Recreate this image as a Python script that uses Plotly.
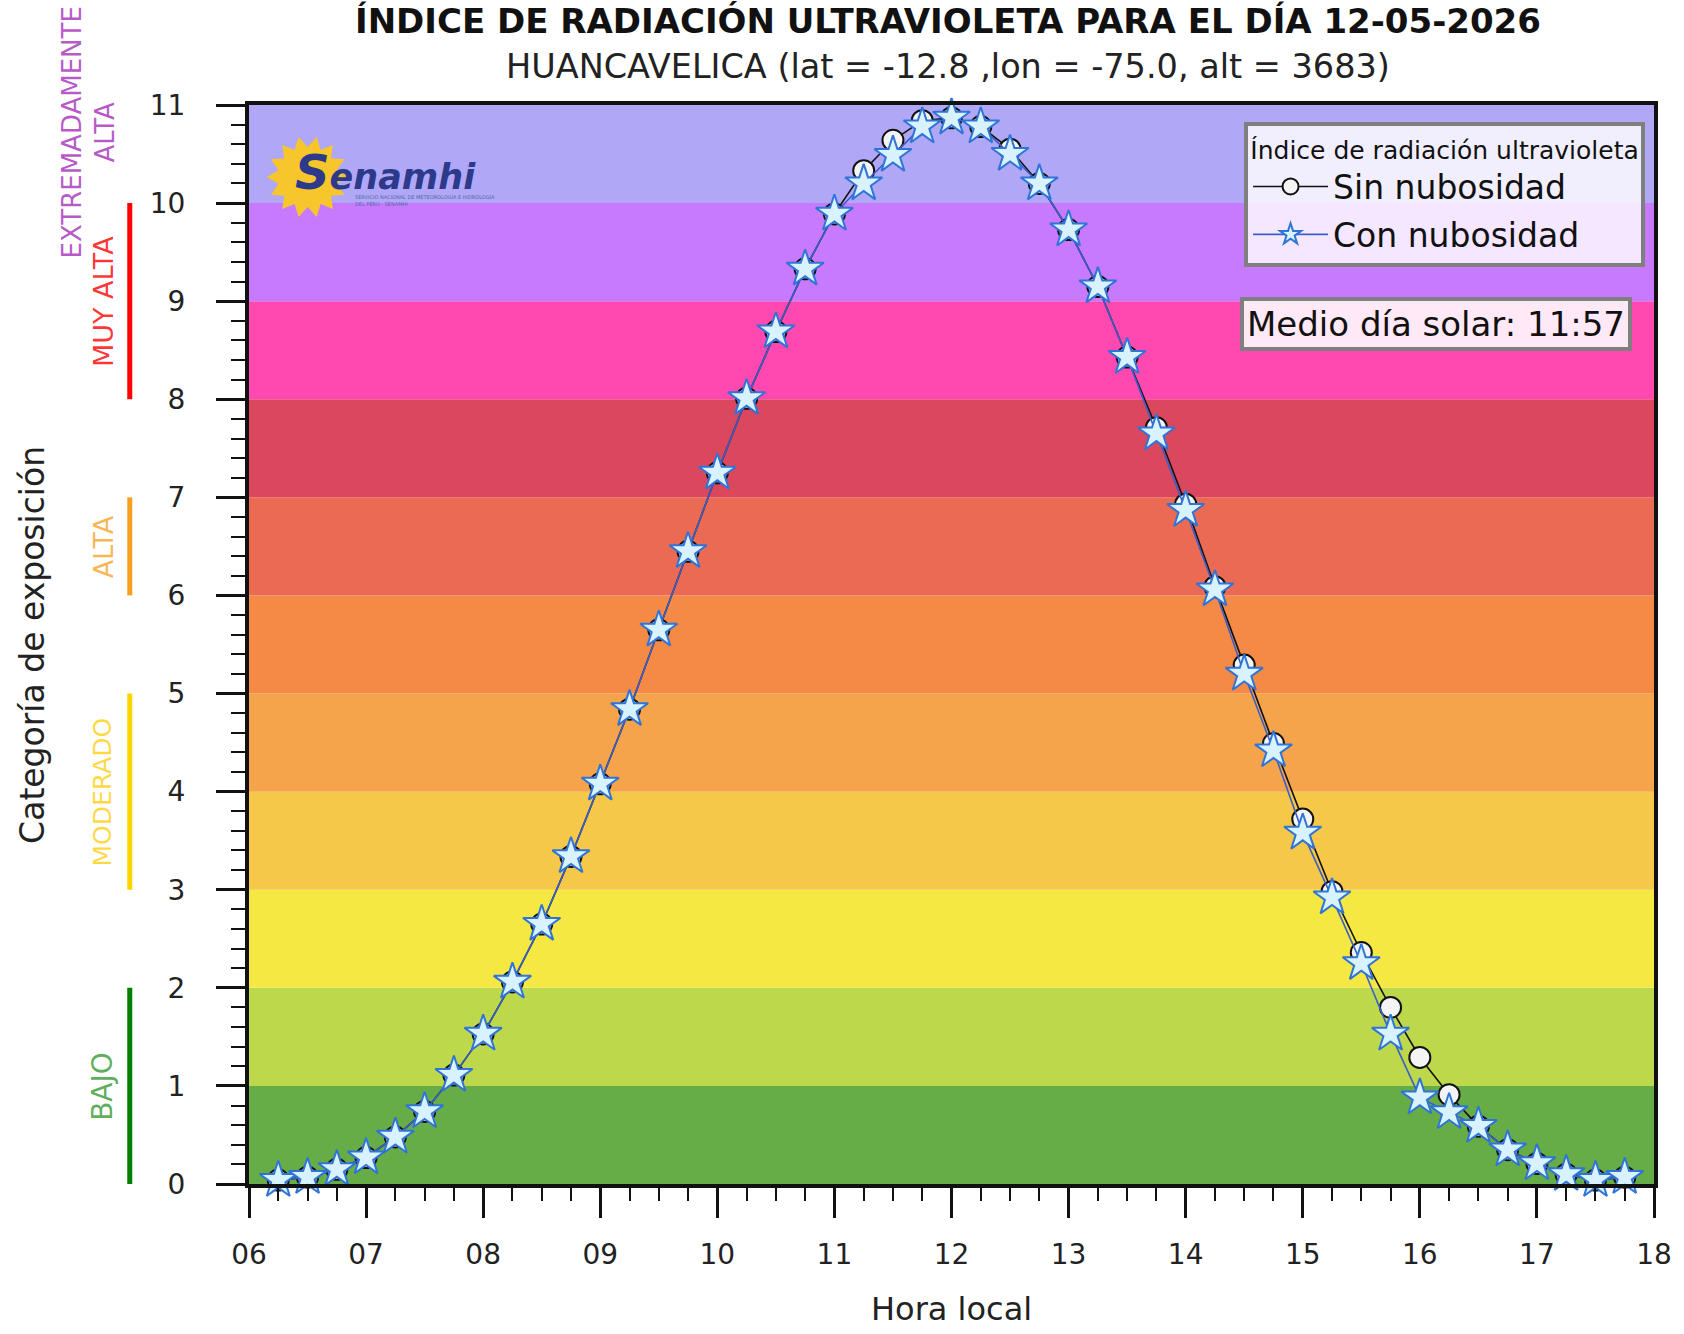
import math
import plotly.graph_objects as go

# ---------------- data ----------------
horas = ["06:15", "06:30", "06:45", "07:00", "07:15", "07:30", "07:45", "08:00",
         "08:15", "08:30", "08:45", "09:00", "09:15", "09:30", "09:45", "10:00",
         "10:15", "10:30", "10:45", "11:00", "11:15", "11:30", "11:45", "12:00",
         "12:15", "12:30", "12:45", "13:00", "13:15", "13:30", "13:45", "14:00",
         "14:15", "14:30", "14:45", "15:00", "15:15", "15:30", "15:45", "16:00",
         "16:15", "16:30", "16:45", "17:00", "17:15", "17:30", "17:45"]

sin_nubosidad = [0.04, 0.07, 0.15, 0.27, 0.48, 0.74, 1.11, 1.53,
                 2.06, 2.65, 3.34, 4.08, 4.84, 5.65, 6.45, 7.25,
                 8.01, 8.69, 9.33, 9.89, 10.33, 10.64, 10.84, 10.87,
                 10.78, 10.55, 10.20, 9.73, 9.15, 8.43, 7.71, 6.93,
                 6.09, 5.29, 4.49, 3.72, 2.98, 2.36, 1.80, 1.29,
                 0.91, 0.59, 0.35, 0.21, 0.10, 0.04, 0.07]

con_nubosidad = [0.04, 0.07, 0.15, 0.27, 0.48, 0.74, 1.11, 1.53,
                 2.06, 2.65, 3.34, 4.08, 4.84, 5.65, 6.45, 7.25,
                 8.01, 8.69, 9.33, 9.89, 10.20, 10.49, 10.78, 10.87,
                 10.78, 10.50, 10.20, 9.73, 9.15, 8.43, 7.65, 6.87,
                 6.06, 5.20, 4.42, 3.58, 2.92, 2.25, 1.53, 0.88,
                 0.73, 0.59, 0.35, 0.21, 0.10, 0.04, 0.07]

x_ticks = [6, 7, 8, 9, 10, 11, 12, 13, 14, 15, 16, 17, 18]
x_tick_labels = ["06", "07", "08", "09", "10", "11", "12", "13", "14", "15", "16", "17", "18"]
y_ticks = list(range(0, 12))

band_limits = [0, 1, 2, 3, 4, 5, 6, 7, 8, 9, 10, 11]
band_colors = ["#66ad48", "#bdd94b", "#f5e843", "#f6c849", "#f5a44c", "#f58a47",
               "#eb6a53", "#db475d", "#ff48b0", "#c87aff", "#b0a8f7"]

categorias = ["BAJO", "MODERADO", "ALTA", "MUY ALTA"]
cat_desde = [0, 3, 6, 8]
cat_hasta = [2, 5, 7, 10]
cat_texto_y = [1.0, 4.0, 6.5, 9.0]
cat_bar_color = ["#008000", "#ffd500", "#f5a020", "#ff0000"]
cat_text_color = ["rgba(0,128,0,0.65)", "rgba(255,205,0,0.75)", "rgba(245,160,32,0.75)", "rgba(255,0,0,0.8)"]
cat_font = [28, 25, 27, 27]

titulo = "ÍNDICE DE RADIACIÓN ULTRAVIOLETA PARA EL DÍA 12-05-2026"
subtitulo = "HUANCAVELICA (lat = -12.8 ,lon = -75.0, alt = 3683)"
mediodia = "Medio día solar: 11:57"

# ---------------- helpers ----------------
W, H = 1684, 1334
L, R, T, B = 249, 21, 105, 150
PW, PH = W - L - R, H - T - B


def px_to_paper(px, py):
    return (px - L) / PW, (H - B - py) / PH


def hora_num(h):
    hh, mm = h.split(":")
    return int(hh) + int(mm) / 60.0


xs = [hora_num(h) for h in horas]
FONT = "DejaVu Sans"

fig = go.Figure()

fig.add_trace(go.Scatter(
    x=xs, y=sin_nubosidad, mode="lines+markers", name="Sin nubosidad",
    line=dict(color="#111111", width=1.6),
    marker=dict(symbol="circle", size=21, color="#f4f4f4",
                line=dict(color="#111111", width=2)),
    legendgroup="a", cliponaxis=False,
))
fig.add_trace(go.Scatter(
    x=xs, y=con_nubosidad, mode="lines+markers", name="Con nubosidad",
    line=dict(color="#3a5fc8", width=1.6),
    marker=dict(symbol="star", size=28, color="#d8f3ff",
                line=dict(color="#2f74d6", width=2)),
    legendgroup="b", cliponaxis=False,
))

shapes = []
for i, c in enumerate(band_colors):
    shapes.append(dict(type="rect", xref="paper", yref="y", x0=0, x1=1,
                       y0=band_limits[i], y1=band_limits[i + 1],
                       fillcolor=c, line=dict(width=0), layer="below"))

# category bars on the left
bar_x = px_to_paper(129, 0)[0]
for i, cat in enumerate(categorias):
    shapes.append(dict(type="line", xref="paper", yref="y", x0=bar_x, x1=bar_x,
                       y0=cat_desde[i], y1=cat_hasta[i],
                       line=dict(color=cat_bar_color[i], width=5)))

# sun logo (decoration)
cx, cy = 308, 177
n_rays = 14
pts = []
for k in range(n_rays * 2):
    ang = math.pi * k / n_rays
    r = 41 if k % 2 == 0 else 30
    px = cx + r * math.cos(ang)
    py = cy + r * math.sin(ang)
    pts.append(px_to_paper(px, py))
path = "M " + " L ".join(f"{p[0]:.5f},{p[1]:.5f}" for p in pts) + " Z"
shapes.append(dict(type="path", xref="paper", yref="paper", path=path,
                   fillcolor="#f7c62a", line=dict(width=0), layer="above"))

annotations = []
# title and subtitle
annotations.append(dict(text="<b>" + titulo + "</b>", xref="paper", yref="paper",
                        x=px_to_paper(952, 0)[0], y=px_to_paper(0, 21)[1],
                        xanchor="center", yanchor="middle", showarrow=False,
                        font=dict(family=FONT, size=34, color="#111111")))
annotations.append(dict(text=subtitulo, xref="paper", yref="paper",
                        x=px_to_paper(952, 0)[0], y=px_to_paper(0, 67)[1],
                        xanchor="center", yanchor="middle", showarrow=False,
                        font=dict(family=FONT, size=33.5, color="#222222")))
# axis titles
annotations.append(dict(text="Categoría de exposición", xref="paper", yref="paper",
                        x=px_to_paper(31, 0)[0], y=0.5, textangle=-90,
                        xanchor="center", yanchor="middle", showarrow=False,
                        font=dict(family=FONT, size=33, color="#222222")))
annotations.append(dict(text="Hora local", xref="paper", yref="paper",
                        x=0.5, y=px_to_paper(0, 1309)[1],
                        xanchor="center", yanchor="middle", showarrow=False,
                        font=dict(family=FONT, size=32, color="#222222")))
# categories
txt_x = px_to_paper(102, 0)[0]
for i, cat in enumerate(categorias):
    annotations.append(dict(text=cat, xref="paper", yref="y", x=txt_x, y=cat_texto_y[i],
                            textangle=-90, xanchor="center", yanchor="middle", showarrow=False,
                            font=dict(family=FONT, size=cat_font[i], color=cat_text_color[i])))
annotations.append(dict(text="EXTREMADAMENTE<br>ALTA", xref="paper", yref="y",
                        x=px_to_paper(88, 0)[0], y=10.72, textangle=-90,
                        xanchor="center", yanchor="middle", showarrow=False,
                        font=dict(family=FONT, size=26, color="rgba(170,60,190,0.85)")))
# logo text
annotations.append(dict(text="<b><i><span style='font-size:48px'>S</span>enamhi</i></b>",
                        xref="paper", yref="paper",
                        x=px_to_paper(293, 0)[0], y=px_to_paper(0, 172)[1],
                        xanchor="left", yanchor="middle", showarrow=False,
                        font=dict(family=FONT, size=35, color="#2d3a8c")))
annotations.append(dict(text="SERVICIO NACIONAL DE METEOROLOGÍA E HIDROLOGÍA<br>DEL PERÚ - SENAMHI",
                        xref="paper", yref="paper", align="left",
                        x=px_to_paper(354, 0)[0], y=px_to_paper(0, 200)[1],
                        xanchor="left", yanchor="middle", showarrow=False,
                        font=dict(family=FONT, size=5, color="#5566aa")))
# solar noon box
annotations.append(dict(text=mediodia, xref="paper", yref="paper",
                        x=px_to_paper(1444, 0)[0], y=px_to_paper(0, 324)[1],
                        xanchor="center", yanchor="middle", showarrow=False,
                        bgcolor="rgba(255,255,255,0.88)", bordercolor="#7f7f7f",
                        borderwidth=4, borderpad=3,
                        font=dict(family=FONT, size=34, color="#111111")))

lx, ly = px_to_paper(1654, 122)

fig.update_layout(
    width=W, height=H,
    margin=dict(l=L, r=R, t=T, b=B),
    paper_bgcolor="white", plot_bgcolor="white",
    font=dict(family=FONT, color="#222222"),
    shapes=shapes, annotations=annotations,
    showlegend=True,
    legend=dict(
        x=lx, y=ly, xanchor="right", yanchor="top",
        bgcolor="rgba(255,255,255,0.82)", bordercolor="#7f7f7f", borderwidth=4,
        font=dict(family=FONT, size=33, color="#111111"),
        title=dict(text="Índice de radiación ultravioleta", side="top center",
                   font=dict(family=FONT, size=25, color="#111111")),
        traceorder="grouped", tracegroupgap=2, itemwidth=75,
    ),
    xaxis=dict(
        range=[6, 18], tickmode="array", tickvals=x_ticks, ticktext=x_tick_labels,
        ticks="outside", ticklen=30, tickwidth=2.5, tickcolor="#111111",
        showline=True, linecolor="#111111", linewidth=4, mirror=True,
        showgrid=False, zeroline=False, ticklabelstandoff=12,
        ticklabeloverflow="allow",
        tickfont=dict(family=FONT, size=28, color="#222222"),
        minor=dict(ticks="outside", dtick=0.25, ticklen=13, tickwidth=2, tickcolor="#111111", showgrid=False),
    ),
    yaxis=dict(
        range=[0, 11], tickmode="array", tickvals=y_ticks,
        ticks="outside", ticklen=29, tickwidth=2.5, tickcolor="#111111",
        showline=True, linecolor="#111111", linewidth=4, mirror=True,
        showgrid=False, zeroline=False, ticklabelstandoff=25,
        ticklabeloverflow="allow",
        tickfont=dict(family=FONT, size=28, color="#222222"),
        minor=dict(ticks="outside", dtick=0.2, ticklen=14, tickwidth=2, tickcolor="#111111", showgrid=False),
    ),
)

fig.write_html("out.html",
               config={"displayModeBar": False},
               post_script="document.body.style.margin='0px';document.body.style.overflow='hidden';")
